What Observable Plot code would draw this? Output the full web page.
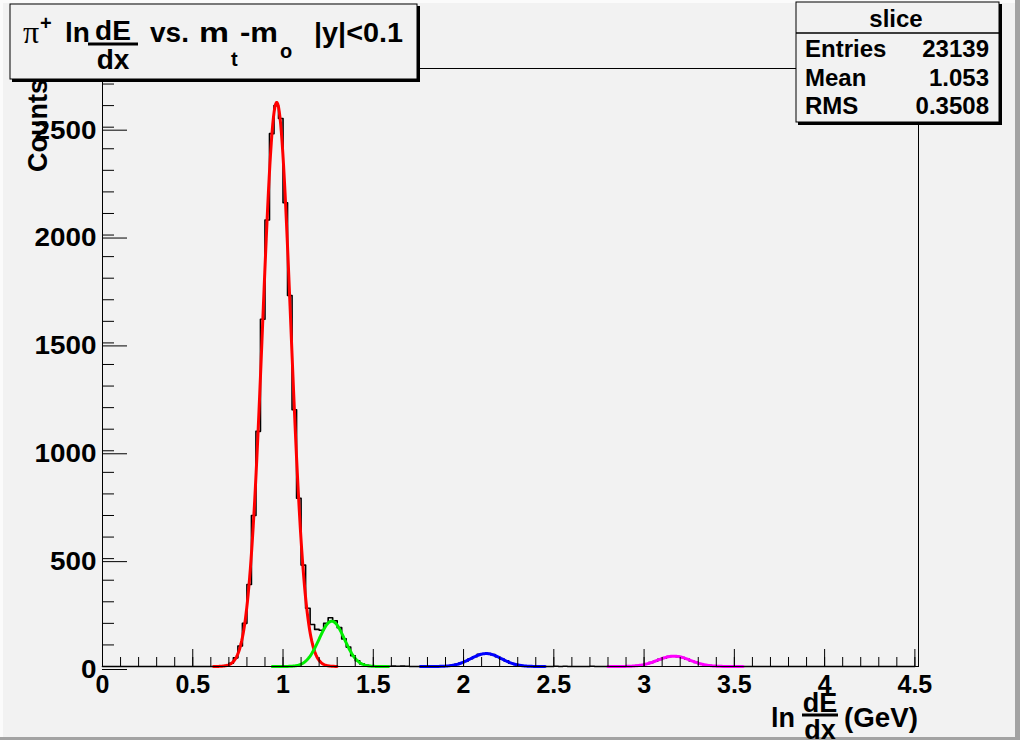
<!DOCTYPE html>
<html>
<head>
<meta charset="utf-8">
<script src="https://cdn.jsdelivr.net/npm/d3@7"></script>
<script src="https://cdn.jsdelivr.net/npm/@observablehq/plot@0.6"></script>
<style>
  html, body { margin: 0; padding: 0; background: #f2f2f2; }
  #canvas { position: relative; width: 1020px; height: 740px; overflow: hidden; background: #f2f2f2; }
  #canvas svg.plotsvg { position: absolute; left: 0; top: 0; max-width: none; }
</style>
</head>
<body>
<div id="canvas"></div>
<script>
// ---------------- data ----------------
const histTitle = "slice";
const binLow = 0;
const binWidth = 0.025;
// counts per bin (180 bins of width 0.025 from 0 to 4.5)
const counts = [
  0,0,0,0,0,0,0,0,0,0, 0,0,0,0,0,0,0,0,0,0,
  0,0,0,0,0,1,2,4,15,40, 95,200,380,700,1090,1610,2070,2470,2600,2540,
  2150,1720,1190,780,470,270,195,172,168,200, 226,212,180,128,90,50,27,12,6,3,
  1,0,0,1,2,1,2,1,0,0, 0,0,0,0,0,1,3,5,10,17,
  24,36,45,56,58,60,55,45,34,26, 15,10,5,3,1,0,0,0,0,0,
  1,0,1,0,0,0,0,0,1,0, 0,0,1,0,0,0,1,2,4,7,
  12,18,24,33,40,46,49,46,42,35, 26,19,12,8,4,2,1,0,0,0,
  0,0,0,0,0,0,0,0,0,0, 0,0,0,0,0,0,0,0,0,0,
  0,0,0,0,0,0,0,0,0,0, 0,0,0,0,0,0,0,0,0,0
];
// Gaussian fit parameters (one per fitted peak)
const fitNames     = ["pion", "kaon", "proton", "deuteron"];
const fitColors    = ["#ff0000", "#00ee00", "#0000ff", "#ff00ff"];
const fitAmplitude = [2615, 210, 60, 48];
const fitMean      = [0.965, 1.27, 2.125, 3.165];
const fitSigma     = [0.078, 0.07, 0.085, 0.09];
const fitFrom      = [0.615, 0.94, 1.76, 2.80];
const fitTo        = [1.30, 1.585, 2.455, 3.55];
// axis ticks
const xMajorTicks = [0, 0.5, 1, 1.5, 2, 2.5, 3, 3.5, 4, 4.5];
const xMajorLabels = ["0", "0.5", "1", "1.5", "2", "2.5", "3", "3.5", "4", "4.5"];
const xMinorTicks = d3.range(0, 46).map(i => i / 10);
const yMajorTicks = [0, 500, 1000, 1500, 2000, 2500];
const yMajorLabels = ["0", "500", "1000", "1500", "2000", "2500"];
const yMinorTicks = d3.range(0, 28).map(i => i * 100);
// stats box
const statNames  = ["Entries", "Mean", "RMS"];
const statValues = ["23139", "1.053", "0.3508"];

// ---------------- build ----------------
const FONT = "Liberation Sans, Arial, Helvetica, sans-serif";
const steps = counts.map((c, i) => ({x: binLow + i * binWidth, y: c}));
steps.push({x: binLow + counts.length * binWidth, y: counts[counts.length - 1]});

const fitMarks = fitNames.map((name, k) => {
  const pts = d3.range(fitFrom[k], fitTo[k] + 1e-9, 0.004).map(x => ({
    x, y: fitAmplitude[k] * Math.exp(-0.5 * ((x - fitMean[k]) / fitSigma[k]) ** 2)
  }));
  return Plot.line(pts, {x: "x", y: "y", stroke: fitColors[k], strokeWidth: 3, curve: "linear"});
});

const svg = Plot.plot({
  width: 1020, height: 740,
  marginLeft: 102, marginRight: 102, marginTop: 68, marginBottom: 74,
  x: {domain: [0, 4.52]},
  y: {domain: [0, 2772]},
  style: {background: "transparent", fontFamily: FONT, color: "black", maxWidth: "none"},
  marks: [
    Plot.line(steps, {x: "x", y: "y", curve: "step-after", stroke: "black", strokeWidth: 1.6}),
    ...fitMarks,
    Plot.frame({stroke: "black", strokeWidth: 1}),
    Plot.axisX({ticks: xMinorTicks, tickSize: -9, tickFormat: () => "", label: null, stroke: "black", strokeWidth: 1}),
    Plot.axisX({ticks: xMajorTicks, tickSize: -17, tickPadding: 26, label: null,
      tickFormat: d => xMajorLabels[xMajorTicks.indexOf(d)],
      fontSize: 25, fontWeight: "bold", fontFamily: FONT, fill: "black", stroke: "black", strokeWidth: 1}),
    Plot.axisY({ticks: yMinorTicks, tickSize: -12, tickFormat: () => "", label: null, stroke: "black", strokeWidth: 1}),
    Plot.axisY({ticks: yMajorTicks, tickSize: -25, tickPadding: 31, dy: 3, label: null,
      tickFormat: d => yMajorLabels[yMajorTicks.indexOf(d)],
      fontSize: 26, fontWeight: "bold", fontFamily: FONT, fill: "black", stroke: "black", strokeWidth: 1})
  ]
});
svg.classList.add("plotsvg");
document.getElementById("canvas").appendChild(svg);

// slightly wider glyphs on the y tick labels, like the original
d3.select(svg).selectAll("g[aria-label='y-axis tick label'] text").each(function () {
  const L = this.getComputedTextLength();
  if (L > 0) { this.setAttribute("textLength", L * 1.07); this.setAttribute("lengthAdjust", "spacingAndGlyphs"); }
});

// ---------------- annotations (title, stats box, axis titles, canvas bevel) ----------------
const g = d3.select(svg).append("g")
  .attr("font-family", FONT).attr("font-weight", "bold").attr("fill", "black")
  .attr("text-anchor", "start");

// canvas bevel
g.append("rect").attr("x", 0).attr("y", 0).attr("width", 1020).attr("height", 3).attr("fill", "#fbfbfb");
g.append("rect").attr("x", 0).attr("y", 0).attr("width", 3).attr("height", 740).attr("fill", "#fbfbfb");
g.append("rect").attr("x", 1015).attr("y", 0).attr("width", 5).attr("height", 740).attr("fill", "#a3a3a3");
g.append("rect").attr("x", 0).attr("y", 737).attr("width", 1020).attr("height", 3).attr("fill", "#a3a3a3");

// y-axis title
g.append("text").attr("transform", "translate(47,172) rotate(-90)")
  .attr("font-size", 27).text("Counts");

// title box
g.append("rect").attr("x", 12).attr("y", 6).attr("width", 408).attr("height", 76).attr("fill", "black");
g.append("rect").attr("x", 10).attr("y", 4).attr("width", 407).attr("height", 75)
  .attr("fill", "#f2f2f2").attr("stroke", "black").attr("stroke-width", 1);
g.append("text").attr("x", 23).attr("y", 43).attr("font-family", "Liberation Serif, DejaVu Serif, serif")
  .attr("font-weight", "normal").attr("font-size", 32).text("π");
g.append("text").attr("x", 40).attr("y", 30).attr("font-size", 20).text("+");
g.append("text").attr("x", 65).attr("y", 42).attr("font-size", 28).text("ln");
g.append("text").attr("x", 113).attr("y", 40).attr("text-anchor", "middle").attr("font-size", 28).text("dE");
g.append("line").attr("x1", 88).attr("x2", 138).attr("y1", 44).attr("y2", 44).attr("stroke", "black").attr("stroke-width", 3);
g.append("text").attr("x", 113).attr("y", 69).attr("text-anchor", "middle").attr("font-size", 28).text("dx");
g.append("text").attr("x", 150).attr("y", 42).attr("font-size", 28).text("vs.");
g.append("text").attr("x", 199).attr("y", 42).attr("font-size", 28).attr("textLength", 30).attr("lengthAdjust", "spacingAndGlyphs").text("m");
g.append("text").attr("x", 231).attr("y", 66).attr("font-size", 20).text("t");
g.append("text").attr("x", 240).attr("y", 42).attr("font-size", 28).attr("textLength", 38).attr("lengthAdjust", "spacingAndGlyphs").text("-m");
g.append("text").attr("x", 280).attr("y", 58).attr("font-size", 20).text("o");
g.append("text").attr("x", 314).attr("y", 42).attr("font-size", 28).attr("textLength", 89).attr("lengthAdjust", "spacingAndGlyphs").text("|y|<0.1");

// stats box
g.append("rect").attr("x", 798).attr("y", 4).attr("width", 204).attr("height", 121).attr("fill", "black");
g.append("rect").attr("x", 796).attr("y", 2).attr("width", 203).attr("height", 120)
  .attr("fill", "#f2f2f2").attr("stroke", "black").attr("stroke-width", 1);
g.append("line").attr("x1", 796).attr("x2", 999).attr("y1", 33).attr("y2", 33).attr("stroke", "black").attr("stroke-width", 1.5);
g.append("text").attr("x", 896).attr("y", 27).attr("text-anchor", "middle").attr("font-size", 24).text(histTitle);
statNames.forEach((n, i) => {
  const yy = 57 + i * 28.5;
  g.append("text").attr("x", 805).attr("y", yy).attr("font-size", 24).text(n);
  g.append("text").attr("x", 989).attr("y", yy).attr("text-anchor", "end").attr("font-size", 24).text(statValues[i]);
});

// x-axis title
g.append("text").attr("x", 771).attr("y", 727).attr("font-size", 27).text("ln");
g.append("text").attr("x", 820).attr("y", 712).attr("text-anchor", "middle").attr("font-size", 27).text("dE");
g.append("line").attr("x1", 802).attr("x2", 838).attr("y1", 715).attr("y2", 715).attr("stroke", "black").attr("stroke-width", 3);
g.append("text").attr("x", 820).attr("y", 739).attr("text-anchor", "middle").attr("font-size", 27).text("dx");
g.append("text").attr("x", 844).attr("y", 727).attr("font-size", 27).attr("textLength", 74).attr("lengthAdjust", "spacingAndGlyphs").text("(GeV)");
</script>
</body>
</html>
